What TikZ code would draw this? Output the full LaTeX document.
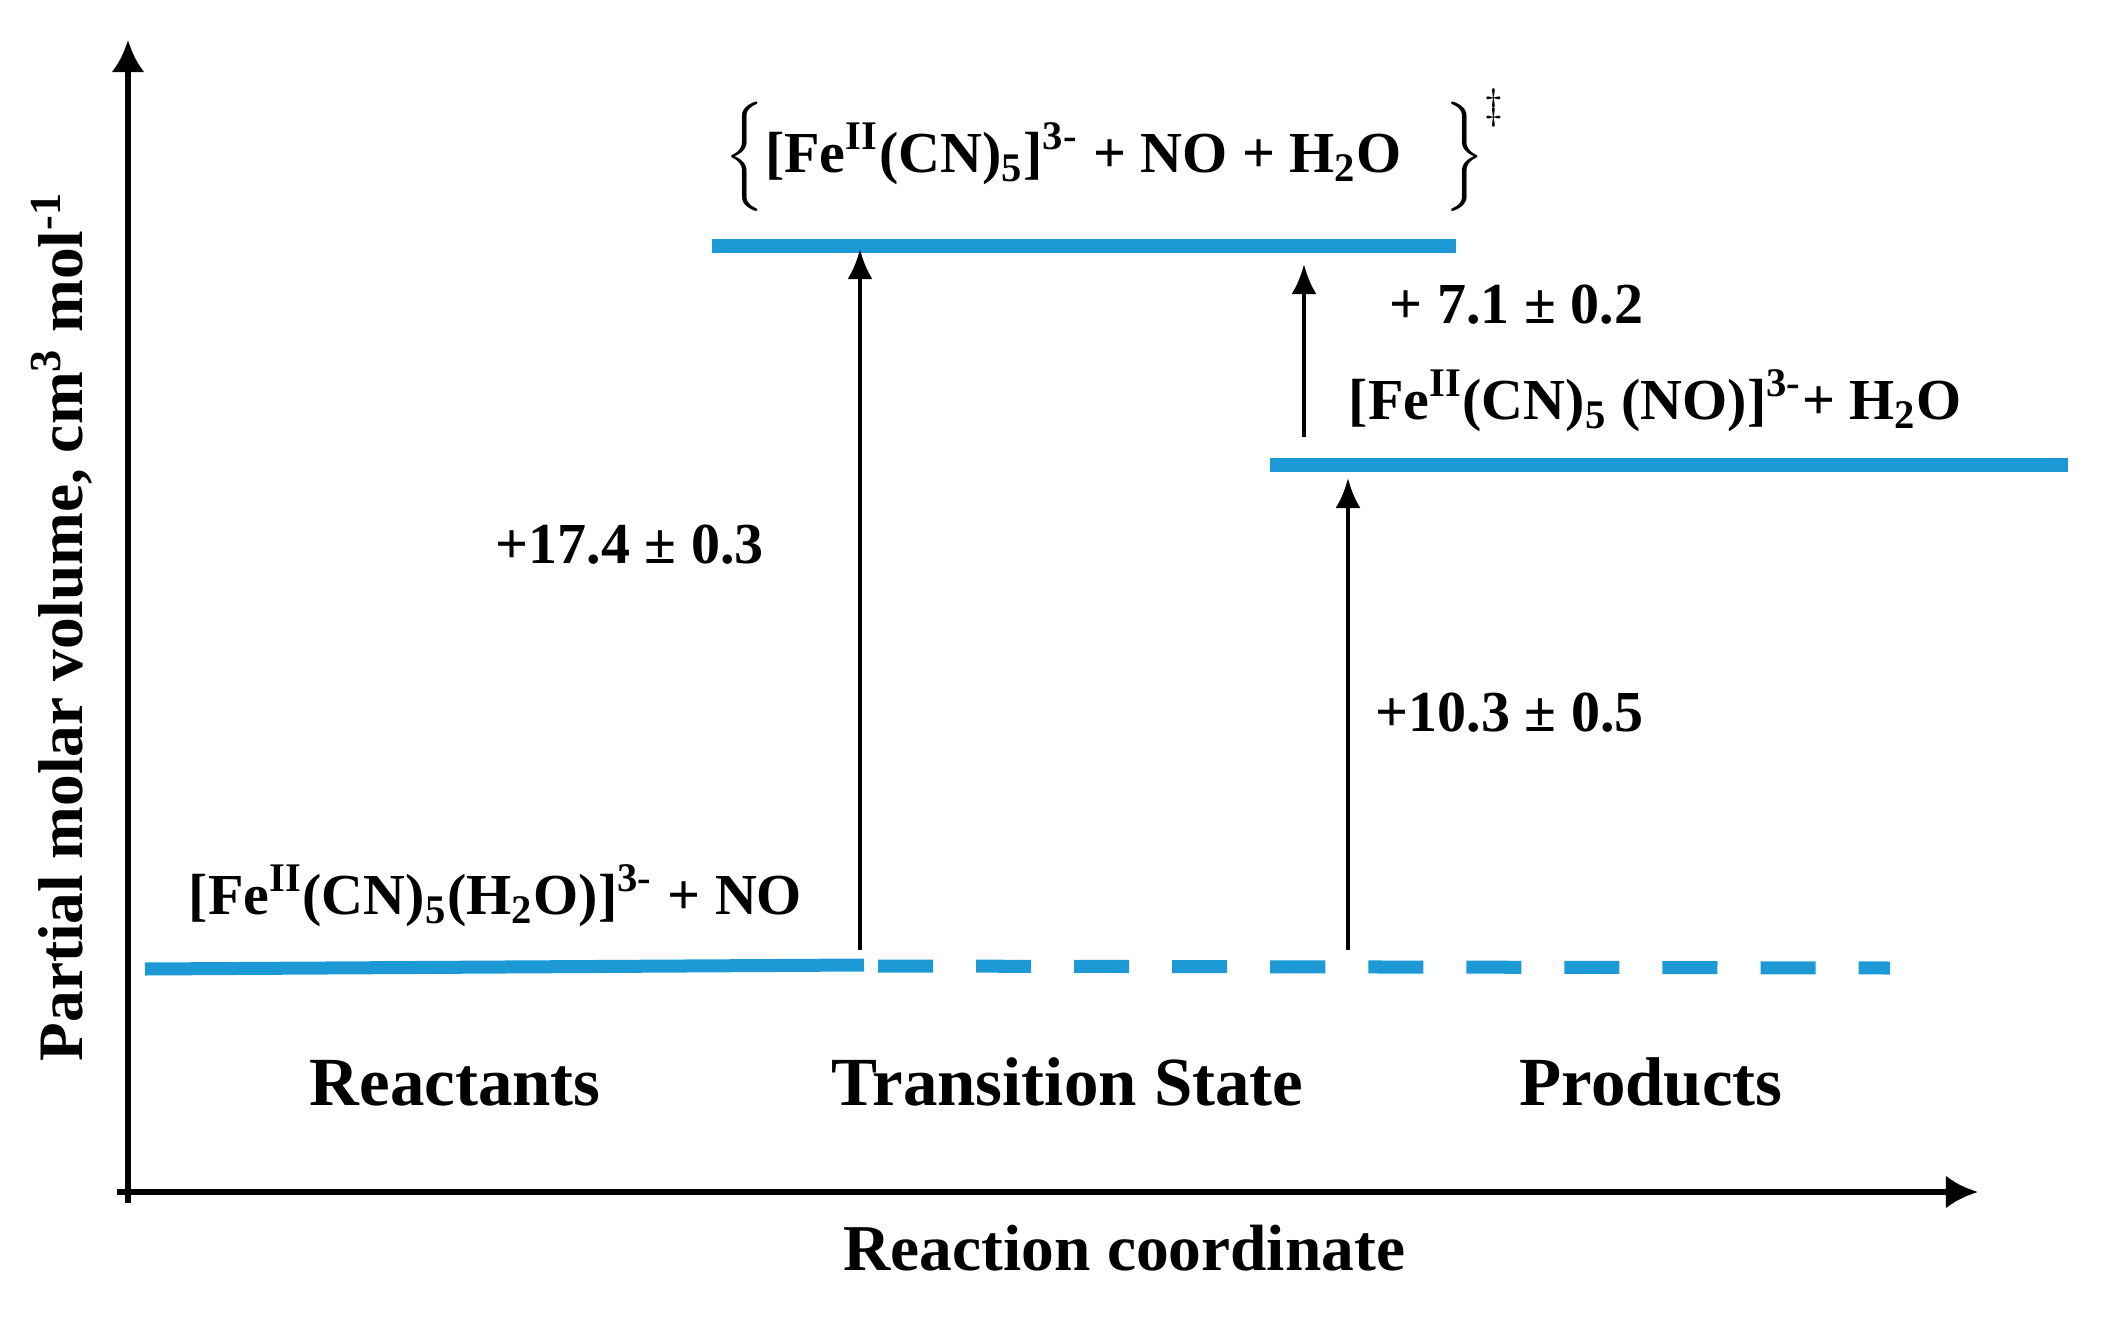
\documentclass[tikz,border=0pt]{standalone}
\usepackage{amsmath}
\usepackage{fontspec}
\setmainfont{Liberation Serif}
\usetikzlibrary{arrows.meta}
\definecolor{levelblue}{HTML}{1D9AD6}

\begin{document}
\begin{tikzpicture}[x=0.01cm,y=-0.01cm,
	level/.style={levelblue,line width=0.13cm},
	axis/.style={line width=0.065cm,-{Latex[length=0.32cm,width=0.33cm]}},
	shiftarrow/.style={line width=0.045cm,-{Latex[length=0.3cm,width=0.25cm]}},
	lbl/.style={inner sep=0pt,anchor=base west,font=\bfseries\fontsize{16.5}{19}\selectfont},
	stage/.style={inner sep=0pt,anchor=base west,font=\bfseries\fontsize{19.6}{23}\selectfont}]
	\useasboundingbox (0,0) rectangle (2108,1318);
	% axes
	\coordinate (O) at (128,1192);
	\coordinate (ytip) at (128,40);
	\coordinate (xtip) at (1978,1192);
	\draw[axis] ([yshift=-3]O) -- (ytip);
	\draw[axis] ([xshift=-3]O) -- (xtip);
	% levels
	\coordinate (r0) at (145,969);
	\coordinate (r1) at (864,965);
	\coordinate (d0) at (878,966);
	\coordinate (d1) at (1890,968);
	\coordinate (t0) at (712,246);
	\coordinate (t1) at (1456,246);
	\coordinate (p0) at (1270,465);
	\coordinate (p1) at (2068,465);
	\draw[level] (r0) -- (r1);
	\draw[level,dash pattern=on 0.55cm off 0.43cm] (d0) -- (d1);
	\draw[level] (t0) -- (t1);
	\draw[level] (p0) -- (p1);
	% volume changes
	\coordinate (a1) at (860,950);
	\coordinate (b1) at (860,249);
	\coordinate (a2) at (1304,437);
	\coordinate (b2) at (1304,264);
	\coordinate (a3) at (1348,950);
	\coordinate (b3) at (1348,478);
	\draw[shiftarrow] (a1) -- (b1);
	\draw[shiftarrow] (a2) -- (b2);
	\draw[shiftarrow] (a3) -- (b3);
	% labels
	\node[lbl] (ts) at (724,172) {$\Bigl\{\text{\bfseries[Fe\textsuperscript{II}(CN)\textsubscript{5}]\textsuperscript{3-} + NO + H\textsubscript{2}O}\hspace{12pt}\Bigr\}^{\ddagger}$};
	\node[lbl] (dv2) at (1389,323) {+ 7.1 ± 0.2};
	\node[lbl] (prod) at (1348,419) {[Fe\textsuperscript{II}(CN)\textsubscript{5} (NO)]\textsuperscript{3-}+ H\textsubscript{2}O};
	\node[lbl] (dv1) at (495,563) {+17.4 ± 0.3};
	\node[lbl] (dv3) at (1375,731) {+10.3 ± 0.5};
	\node[lbl] (reac) at (188,914) {[Fe\textsuperscript{II}(CN)\textsubscript{5}(H\textsubscript{2}O)]\textsuperscript{3-} + NO};
	\node[stage] (s1) at (309,1105) {Reactants};
	\node[stage] (s2) at (831,1105) {Transition State};
	\node[stage] (s3) at (1519,1105) {Products};
	\node[stage,font=\bfseries\fontsize{18.6}{22}\selectfont] (xlab) at (843,1270) {Reaction coordinate};
	\node[stage,rotate=90,font=\bfseries\fontsize{18}{21}\selectfont] (ylab) at (83,1062) {Partial molar volume, cm\textsuperscript{3} mol\textsuperscript{-1}};
\end{tikzpicture}
\end{document}
